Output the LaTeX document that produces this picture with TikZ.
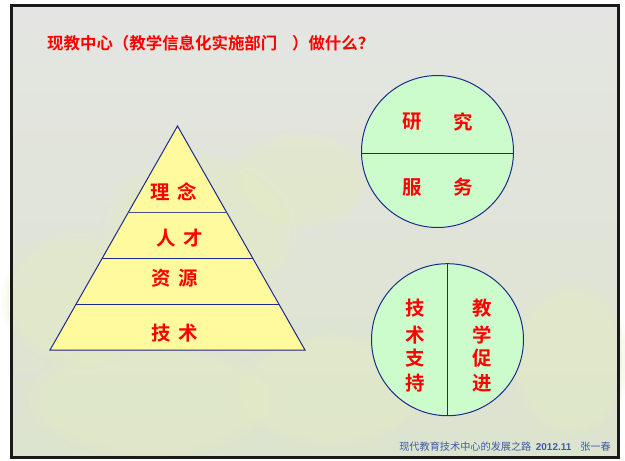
\documentclass[tikz,border=0pt]{standalone}
\usepackage{fontspec}
\usetikzlibrary{fadings}
\newfontfamily\cjk{Noto Sans CJK SC}
\newfontfamily\cjkb{Noto Sans CJK SC Bold}
\setsansfont{Liberation Sans}
\definecolor{frame}{HTML}{1A1A1A}
\definecolor{navy}{HTML}{1E2A8C}
\definecolor{pyr}{HTML}{FFFA9E}
\definecolor{disc}{HTML}{CCFCCC}
\definecolor{txtred}{HTML}{FF0000}
\definecolor{foot}{HTML}{3F5CA8}
\definecolor{bgtop}{HTML}{E4E5E2}
\definecolor{bgbot}{HTML}{DCE3CE}
\definecolor{leaf}{HTML}{E2EBC4}
\begin{document}
\begin{tikzpicture}[x=1bp,y=-1bp,
  lbl/.style={text=txtred,font=\cjkb\fontsize{19.5}{19.5}\selectfont,inner sep=0pt},
  edge/.style={draw=navy,line width=1bp},
  blob/.style={fill=leaf,path fading=circle with fuzzy edge 20 percent,opacity=0.55},
  footlbl/.style={text=foot,inner sep=0pt}]
\useasboundingbox (0,0) rectangle (625,461);
\fill[white] (0,0) rectangle (625,461);
\shade[top color=bgtop,bottom color=bgbot] (11,6) rectangle (618,457);
% faint foliage
\fill[blob] (80,300) ellipse (80 and 70);
\fill[blob] (200,230) ellipse (100 and 80);
\fill[blob] (150,400) ellipse (130 and 60);
\fill[blob] (330,390) ellipse (100 and 60);
\fill[blob] (570,360) ellipse (60 and 80);
\fill[blob] (300,180) ellipse (70 and 50);
\draw[frame,line width=3bp] (11,6) rectangle (618,457);
% title
\node[anchor=west,text=txtred,inner sep=0pt,font=\cjkb\fontsize{16.5}{16.5}\selectfont] (title) at (47,43) {现教中心（教学信息化实施部门\hspace{0.9em}）做什么？};
% pyramid
\coordinate (apex) at (177.5,126);
\coordinate (bl) at (50,350);
\coordinate (br) at (305,350);
\filldraw[fill=pyr,edge] (apex) -- (bl) -- (br) -- cycle;
\coordinate (l1a) at (128,212.7); \coordinate (l1b) at (226.5,212.7);
\coordinate (l2a) at (102,258.3); \coordinate (l2b) at (253,258.3);
\coordinate (l3a) at (76,304);   \coordinate (l3b) at (279,304);
\draw[draw=navy!55!gray,line width=1.3bp] (l1a) -- (l1b);
\draw[edge] (l2a) -- (l2b);
\draw[edge] (l3a) -- (l3b);
\node[lbl] (linian) at (174,192) {理\hspace{0.4em}念};
\node[lbl] (rencai) at (180,238) {人\hspace{0.4em}才};
\node[lbl] (ziyuan) at (175,278) {资\hspace{0.4em}源};
\node[lbl] (jishu) at (175,333) {技\hspace{0.4em}术};
% circle 1
\node[circle,draw=navy,line width=1bp,fill=disc,minimum size=152bp,inner sep=0pt] (c1) at (437.5,151.5) {};
\coordinate (h1) at (361.5,154); \coordinate (h2) at (513.5,154);
\draw[edge] (h1) -- (h2);
\node[lbl] (yan) at (412,122) {研};
\node[lbl] (jiu) at (463,122) {究};
\node[lbl] (fu) at (412,187) {服};
\node[lbl] (wu) at (463,187) {务};
% circle 2
\node[circle,draw=navy,line width=1bp,fill=disc,minimum size=152bp,inner sep=0pt] (c2) at (447.5,339.7) {};
\draw[edge] (c2.north) -- (c2.south);
\node[lbl] (a1) at (415,308) {技};
\node[lbl] (a2) at (415,335) {术};
\node[lbl] (a3) at (415,358.5) {支};
\node[lbl] (a4) at (415,383.5) {持};
\node[lbl] (b1) at (482,308) {教};
\node[lbl] (b2) at (482,335) {学};
\node[lbl] (b3) at (482,358.5) {促};
\node[lbl] (b4) at (482,383.5) {进};
% footer
\node[footlbl,anchor=east] (footer) at (611,447) {{\cjk\fontsize{10.2}{11}\selectfont 现代教育技术中心的发展之路}\hspace{0.45em}{\sffamily\bfseries\fontsize{10}{11}\selectfont 2012.11}\hspace{0.9em}{\cjk\fontsize{10.2}{11}\selectfont 张一春}};
\end{tikzpicture}
\end{document}
